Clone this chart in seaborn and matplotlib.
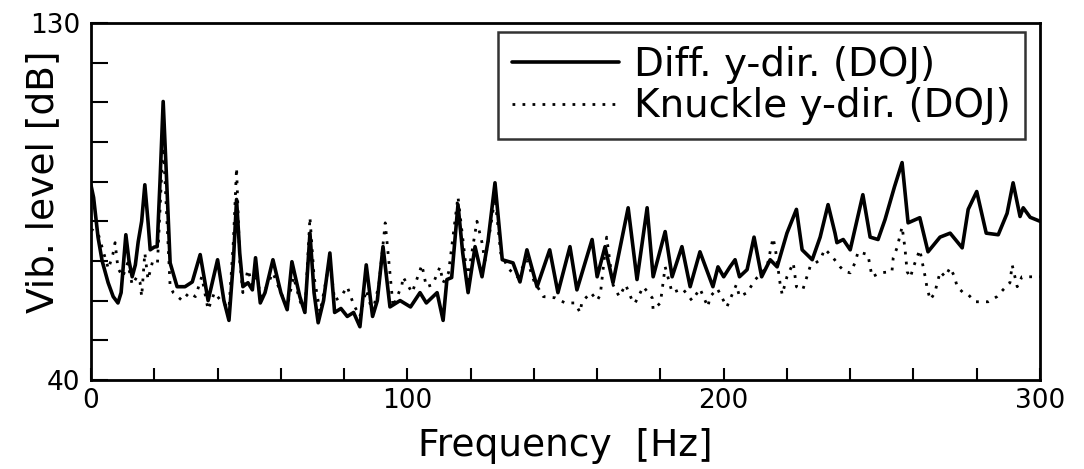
import numpy as np
import pandas as pd
import matplotlib
matplotlib.use("Agg")
import matplotlib.pyplot as plt
import seaborn as sns

# ---- data ----
diff_freq = [0, 0.8, 2.2, 3.5, 5.4, 7, 8.5, 9.5, 11, 12, 13, 14, 14.9, 16, 17, 18, 18.7, 20, 20.9,
             21.8, 22.8, 23.8, 25, 27.2, 29.7, 32, 34.5, 37, 40, 42, 43.6, 45, 46, 47, 48, 49.6, 51,
             52, 53.5, 55, 57.5, 60, 62, 63.5, 66, 67.6, 69.2, 70.5, 71.8, 73.5, 75.5, 77, 79, 81,
             83, 85, 87, 89, 90.5, 92.3, 94.5, 97.7, 101, 104, 106, 109.4, 111.3, 112.5, 114, 116,
             117.5, 119.2, 121.4, 123.6, 125.5, 127.7, 130, 133.4, 135.6, 137.8, 141, 145, 147.6,
             151.4, 153.6, 158.4, 160, 162.5, 165, 169.8, 172.6, 175.8, 177.7, 181.5, 183.7, 186.8,
             189.4, 192.5, 196.6, 198.2, 200, 202, 203.6, 205, 207.4, 209.6, 212, 214.7, 216.9,
             220, 223, 224.8, 228, 230.5, 233, 235.2, 235.8, 237.8, 240, 244, 246.3, 248.8, 251,
             254, 256.4, 258.3, 262, 264.6, 268.4, 271.6, 275.4, 277.3, 280, 283, 286.8, 289.6,
             291.5, 293.7, 294.7, 296.9, 300]
diff_db = [89, 86, 76, 70, 64.5, 61, 59.4, 62, 76.6, 70, 66, 69, 74.8, 80, 89.2, 80, 72.8, 73.5, 73.6,
           90, 110.2, 92, 69.5, 63.5, 63.5, 64.7, 71.6, 60, 70.3, 60, 55, 70, 85.5, 72, 63.5, 64.5, 62.7,
           70.8, 59.4, 62, 70.3, 62, 57.7, 69.8, 61, 57, 77, 62, 54.4, 60, 72, 57, 58, 56,
           57, 53.4, 69, 56, 60, 73.6, 58.4, 60, 58.4, 62, 59.4, 62, 55, 65.3, 65.8, 84.2,
           72, 62, 73.6, 66, 75, 89.7, 70.3, 69.5, 64.7, 72.8, 63.5, 72.8, 62,
           73.6, 62.7, 75.4, 66, 73.6, 64.5, 83.4, 65.3, 83.4, 66, 77.4, 66, 73.6,
           63.5, 72.3, 63.5, 68.5, 66, 68.5, 70.3, 66, 67.8, 76, 66, 70.3, 68.5,
           77, 83, 72.8, 70.3, 76, 84.2, 77, 74.6, 75.4, 72.8, 86.7, 76, 75.4, 80.4,
           88.7, 94.8, 79.6, 80.9, 72.3, 76, 77, 73.3, 83, 87.5, 77, 76.6, 82,
           89.7, 81.2, 83.4, 81, 80]

knuckle_freq = [0, 2.2, 4, 5.5, 6.9, 7.6, 8.5, 10, 11.6, 13, 14.5, 15.5, 16, 17, 18, 19.5, 21, 22.8,
                24, 25, 26, 28.8, 31, 33, 35, 37, 39, 41, 43.6, 45, 46, 47, 48, 49.6, 51, 52, 54,
                57.5, 60, 62, 64, 66, 67.6, 69.2, 70.5, 72.4, 75.5, 77, 79, 81, 83, 85, 87, 89, 91,
                93, 95.5, 98.3, 98.6, 101.5, 104.6, 106, 108, 110.3, 111.3, 113, 116, 119, 122,
                123.6, 124.5, 126, 127.7, 129.5, 132, 134.7, 137.8, 140, 143, 146.7, 149.9, 153,
                154.6, 155.2, 158, 160, 161, 163, 165, 167, 169, 171.4, 172, 174.6, 177.4, 177.7,
                180, 181.5, 183.7, 187, 190, 192.5, 195, 195.7, 198, 201, 204, 205, 207.4, 210,
                213.7, 215.6, 216.3, 217.8, 218.5, 220, 222, 223, 225, 227.3, 230.5, 232, 234.6,
                236.8, 238.4, 240, 241.5, 242.5, 245.6, 246.3, 246.9, 249.5, 253.2, 253.6, 254.8,
                256.4, 257.3, 258, 259, 260, 262, 263.7, 264.3, 265.3, 266.8, 267.5, 268.5, 270,
                271.6, 273, 273.8, 275.7, 277.3, 279.5, 281.7, 283.6, 286.4, 288.3, 290.5, 291.2,
                292.8, 294.3, 296.9, 300]
knuckle_db = [78, 77, 72, 68, 71.7, 74.6, 68.2, 66, 69.5, 64, 66, 64.5, 61, 72, 65.3, 70, 69.5, 100,
              80, 63.5, 62, 60, 62, 61, 66, 57.7, 62, 60, 58, 75, 93.5, 70, 62, 67.8, 64, 66, 61,
              67, 62, 58.4, 66, 60, 57, 81, 66, 57, 70.3, 60, 61, 63.5, 59, 56, 62.7, 57, 64,
              79.6, 58.4, 64, 66, 62, 69, 63.5, 64, 68.5, 64.5, 67, 86.2, 65.3, 80,
              74.6, 70, 77, 86, 72, 68, 66, 70.3, 65, 61, 60.7, 59.4, 59.4,
              57, 59.7, 62, 60, 61.5, 76, 64, 61, 64, 59.4, 59.4, 63.5, 60.7, 57.7,
              59.4, 68.5, 62, 63, 60, 63, 58.4, 61, 63, 58.4, 64, 61, 62, 65.3,
              68.5, 75.8, 73.3, 64.5, 61.5, 66, 69.5, 63.5, 62.7, 68.5, 70.3, 73, 70.8,
              68.5, 67.3, 67, 69.5, 72.3, 71.6, 68.5, 66, 67, 67.3, 70.8, 73.3,
              78.6, 73.3, 67.3, 65.8, 68.5, 72.8, 66, 63.2, 60.2, 62, 64.5, 67.3, 66,
              68.3, 66, 63.5, 62, 61.5, 59.7, 59.7, 59.7, 61, 62.7, 64.5, 69,
              63.5, 66, 66, 66]

series_labels = ["Diff. y-dir. (DOJ)", "Knuckle y-dir. (DOJ)"]
x_ticks = [0, 100, 200, 300]
y_ticks = [40, 130]

# ---- plot ----
sns.set_theme(style="white")
plt.rcParams["font.family"] = ["DejaVu Sans"]

fig = plt.figure(figsize=(10.84, 4.69), dpi=100)
ax = fig.add_axes([0.084, 0.19, 0.8754, 0.761])

df_diff = pd.DataFrame({"f": diff_freq, "db": diff_db})
df_kn = pd.DataFrame({"f": knuckle_freq, "db": knuckle_db})

sns.lineplot(data=df_diff, x="f", y="db", ax=ax, color="black", linewidth=2.6,
             estimator=None, sort=False, label=series_labels[0])
sns.lineplot(data=df_kn, x="f", y="db", ax=ax, color="black", linewidth=2.0,
             linestyle=(0, (1, 2.6)), estimator=None, sort=False, label=series_labels[1])

ax.set_xlim(0, 300)
ax.set_ylim(40, 130)
ax.set_xticks(np.arange(0, 301, 20))
ax.set_xticklabels([str(v) if v in x_ticks else "" for v in range(0, 301, 20)])
ax.set_yticks(np.arange(40, 131, 10))
ax.set_yticklabels([str(v) if v in y_ticks else "" for v in range(40, 131, 10)])
ax.tick_params(axis="x", direction="in", length=9, width=1.5, labelsize=19, pad=6,
               colors="black", bottom=True)
ax.tick_params(axis="y", direction="in", length=12, width=1.5, labelsize=19, pad=8,
               colors="black", left=True)

for s in ax.spines.values():
    s.set_color("black")
    s.set_linewidth(2)
    s.set_visible(True)

ax.set_xlabel("Frequency  [Hz]", fontsize=27, labelpad=10, color="black")
ax.set_ylabel("Vib. level [dB]", fontsize=27, color="black")
ax.yaxis.set_label_coords(-0.032, 0.555)
ax.grid(False)

leg = ax.legend(loc="upper right", bbox_to_anchor=(0.984, 0.975), borderaxespad=0,
                fontsize=28, frameon=True, fancybox=False, handlelength=2.75,
                handletextpad=0.4, borderpad=0.35, labelspacing=0.1)
leg.get_frame().set_edgecolor("black")
leg.get_frame().set_linewidth(1.8)
for t in leg.get_texts():
    t.set_color("black")

fig.savefig("out.png", dpi=100)
